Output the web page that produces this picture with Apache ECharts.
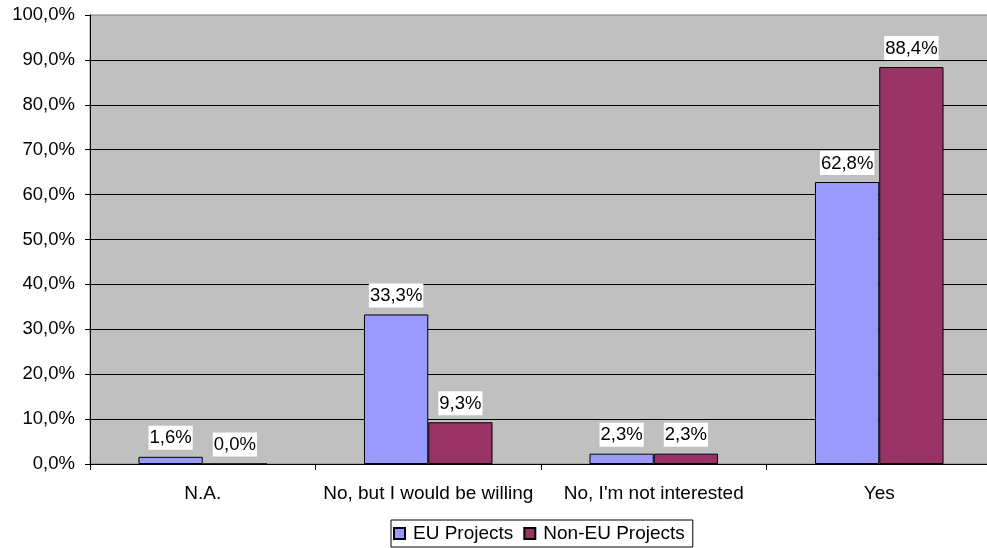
<!DOCTYPE html>
<html><head><meta charset="utf-8">
<script src="https://cdn.jsdelivr.net/npm/echarts@6/dist/echarts.min.js"></script>
<style>html,body{margin:0;padding:0;background:#fff;overflow:hidden}#c{width:992px;height:548px}</style>
</head><body><div id="c"></div>
<script>
const categories = ['N.A.', 'No, but I would be willing', "No, I'm not interested", 'Yes'];
const euValues = [1.6, 33.3, 2.3, 62.8];
const nonEuValues = [0.0, 9.3, 2.3, 88.4];
const seriesNames = ['EU Projects', 'Non-EU Projects'];

const fmt = v => v.toFixed(1).replace('.', ',') + '%';
const font = 'Liberation Sans, Arial, sans-serif';
const chart = echarts.init(document.getElementById('c'));
const labelCfg = {
  show: true, position: 'top', distance: 7,
  formatter: p => fmt(p.value),
  color: '#000', fontFamily: font, fontSize: 18.5,
  backgroundColor: '#fff', padding: [3, 1, 2, 1]
};
chart.setOption({
  animation: false,
  textStyle: { fontFamily: font },
  grid: { left: 90, top: 15, bottom: 84, right: 0, show: true,
          backgroundColor: '#C0C0C0', borderColor: '#808080', borderWidth: 1 },
  legend: {
    data: seriesNames, bottom: 1, left: 391,
    itemWidth: 11, itemHeight: 11, itemGap: 10,
    icon: 'rect',
    textStyle: { fontFamily: font, fontSize: 19, color: '#000', padding: [0, 0, 0, 3] },
    borderColor: '#000', borderWidth: 1, backgroundColor: '#fff',
    padding: [4, 8, 4, 2]
  },
  xAxis: {
    type: 'category', data: categories,
    axisLine: { lineStyle: { color: '#000' } },
    axisTick: { show: true, length: 6, lineStyle: { color: '#000' } },
    axisLabel: { color: '#000', fontSize: 19, fontFamily: font, margin: 20, interval: 0 }
  },
  yAxis: {
    type: 'value', min: 0, max: 100, interval: 10,
    axisLine: { show: true, lineStyle: { color: '#000' } },
    axisTick: { show: true, length: 5, lineStyle: { color: '#000' } },
    axisLabel: { color: '#000', fontSize: 18.5, fontFamily: font, margin: 15, formatter: v => fmt(v) },
    splitLine: { show: true, showMaxLine: false, lineStyle: { color: '#000', width: 1 } }
  },
  series: [
    { name: seriesNames[0], type: 'bar', data: euValues, barGap: '0%', barCategoryGap: '43%',
      itemStyle: { color: '#9999FF', borderColor: '#000', borderWidth: 1 }, label: labelCfg },
    { name: seriesNames[1], type: 'bar', data: nonEuValues, barGap: '0%', barCategoryGap: '43%',
      itemStyle: { color: '#993366', borderColor: '#000', borderWidth: 1 }, label: labelCfg }
  ]
});
</script></body></html>
